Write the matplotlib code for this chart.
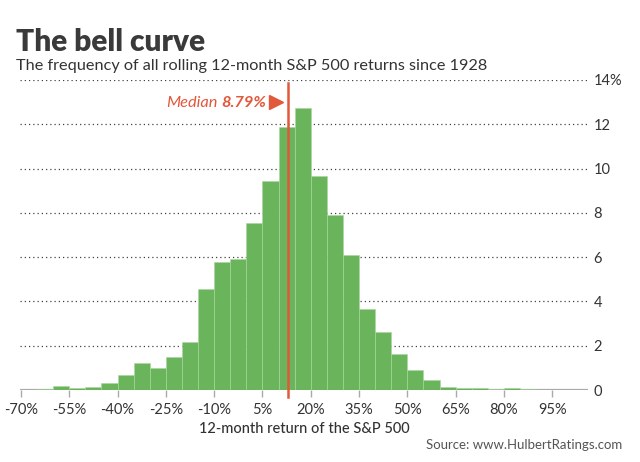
"""
The bell curve: frequency of rolling 12-month S&P 500 returns since 1928.
Histogram in 5-point bins with a median marker.
"""
import matplotlib.pyplot as plt
import numpy as np

plt.rcParams["font.family"] = ["Lato", "DejaVu Sans"]

# Data: left edge of each 5% bin and its share of months (%)
bin_left = list(range(-65, 90, 5))
freq_pct = [0.05, 0.2, 0.08, 0.15, 0.33, 0.7, 1.23, 1.0, 1.49, 2.17,
            4.56, 5.79, 5.9, 7.53, 9.44, 11.89, 12.75, 9.65, 7.9, 6.09,
            3.64, 2.63, 1.64, 0.89, 0.47, 0.15, 0.08, 0.08, 0.03, 0.08, 0.03]
BIN_W = 5
x_ticks = list(range(-70, 100, 15))
x_tick_labels = [f"{t}%" for t in x_ticks]
y_ticks = [0, 2, 4, 6, 8, 10, 12, 14]
y_tick_labels = ["0", "2", "4", "6", "8", "10", "12", "14%"]
median_label = "8.79%"
median_line_x = 12.8   # where the line sits on the axis in the original

GREEN = "#6ab55c"
RED = "#e2583b"
DARK = "#333333"
GREY = "#555555"

fig = plt.figure(figsize=(6.4, 4.62), dpi=100)
ax = fig.add_axes([20 / 640, 72 / 462, 568 / 640, 310 / 462])

# baseline + gridlines
ax.axhline(0, color="#aaaaaa", linewidth=1.6, zorder=1)
for y in y_ticks[1:]:
    ax.axhline(y, color="#444444", linestyle=(0, (1, 2.4)), linewidth=0.9, zorder=1)

ax.bar(bin_left, freq_pct, width=BIN_W, align="edge", color=GREEN,
       edgecolor="#a9d69f", linewidth=0.4, zorder=2)

# median marker
ax.axvline(median_line_x, ymin=-0.023, ymax=0.99, color=RED, linewidth=1.8,
           clip_on=False, zorder=3)
ax.plot([median_line_x - 3.6], [13.0], marker=">", markersize=10,
        color=RED, zorder=3, clip_on=False)
val = ax.text(median_line_x - 6.6, 12.95, median_label, ha="right", va="center",
              fontsize=11.8, style="italic", fontweight="bold", color=RED)
ax.annotate("Median", xy=(0, 0.5), xycoords=val, xytext=(-3, 0),
            textcoords="offset points", ha="right", va="center",
            fontsize=11.8, style="italic", color=RED)

ax.set_xlim(-70.3, 106.1)
ax.set_ylim(0, 14)
ax.set_xticks(x_ticks)
ax.set_xticklabels(x_tick_labels, fontsize=10.5, color=DARK)
ax.yaxis.tick_right()
ax.set_yticks(y_ticks)
ax.set_yticklabels(y_tick_labels, fontsize=10.5, color=DARK, ha="left")
ax.tick_params(axis="y", length=0, pad=4)
ax.tick_params(axis="x", length=5, color="#aaaaaa", width=1, pad=4)
for s in ax.spines.values():
    s.set_visible(False)

ax.set_xlabel("12-month return of the S&P 500", fontsize=10.5, color=DARK,
              fontweight="medium", labelpad=4)

fig.text(16 / 640, 1 - 51 / 462, "The bell curve", fontsize=21.5,
         fontweight="heavy", color="#3a3a3a", va="baseline")
fig.text(16 / 640, 1 - 70 / 462,
         "The frequency of all rolling 12-month S&P 500 returns since 1928",
         fontsize=11.7, color=DARK, va="baseline")
fig.text(622 / 640, 1 - 449 / 462, "Source: www.HulbertRatings.com",
         fontsize=9.5, color=GREY, ha="right", va="baseline")

fig.savefig("out.png", dpi=100)
plt.close(fig)
